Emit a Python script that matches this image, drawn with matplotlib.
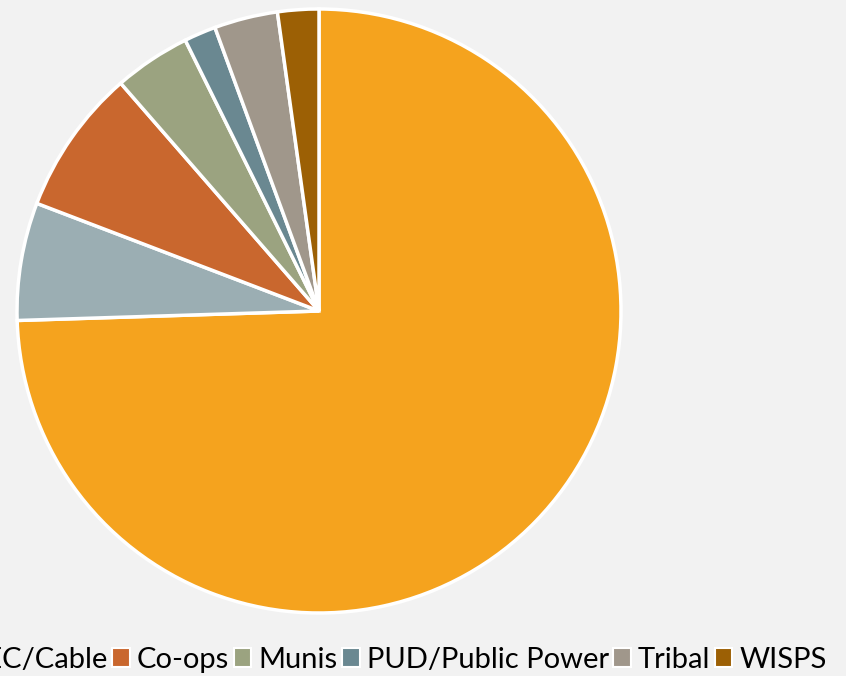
"""Provider type share pie chart."""

import matplotlib.pyplot as plt

# Slice data, clockwise from 12 o'clock.
labels = ['ILEC', 'CLEC/Cable', 'Co-ops', 'Munis', 'PUD/Public Power', 'Tribal', 'WISPS']
shares = [74.5, 6.3, 7.8, 4.1, 1.7, 3.4, 2.2]
colors = ['#F5A31E', '#9BAEB3', '#C9672E', '#9BA380', '#6A8891', '#A0978B', '#9C6005']

plt.rcParams['font.family'] = ['Lato', 'DejaVu Sans']

fig = plt.figure(figsize=(8.46, 6.76), dpi=100, facecolor='#F2F2F2')

# Pie centre at (319, 311) px, radius ~302 px.
cx, cy, r = 319, 311, 302
ax = fig.add_axes([(cx - r) / 846, (676 - cy - r) / 676, 2 * r / 846, 2 * r / 676])
ax.set_facecolor('#F2F2F2')

wedges, _ = ax.pie(shares, colors=colors, startangle=90, counterclock=False,
                   radius=1.0,
                   wedgeprops=dict(edgecolor='white', linewidth=2.5))
ax.set_xlim(-1.0, 1.0)
ax.set_ylim(-1.0, 1.0)
ax.set_aspect('equal')
ax.axis('off')

# Legend along the bottom, running off the left edge.
leg = fig.legend(wedges, labels, loc='center right', bbox_to_anchor=(827 / 846, 16 / 676),
                 ncol=len(labels), frameon=False, fontsize=21,
                 handlelength=0.6, handleheight=0.6, handletextpad=0.25,
                 columnspacing=0.15, borderpad=0, borderaxespad=0)
for h in leg.legend_handles:
    h.set_edgecolor('white')
    h.set_linewidth(1.5)

fig.savefig('out.png', dpi=100, facecolor=fig.get_facecolor())
